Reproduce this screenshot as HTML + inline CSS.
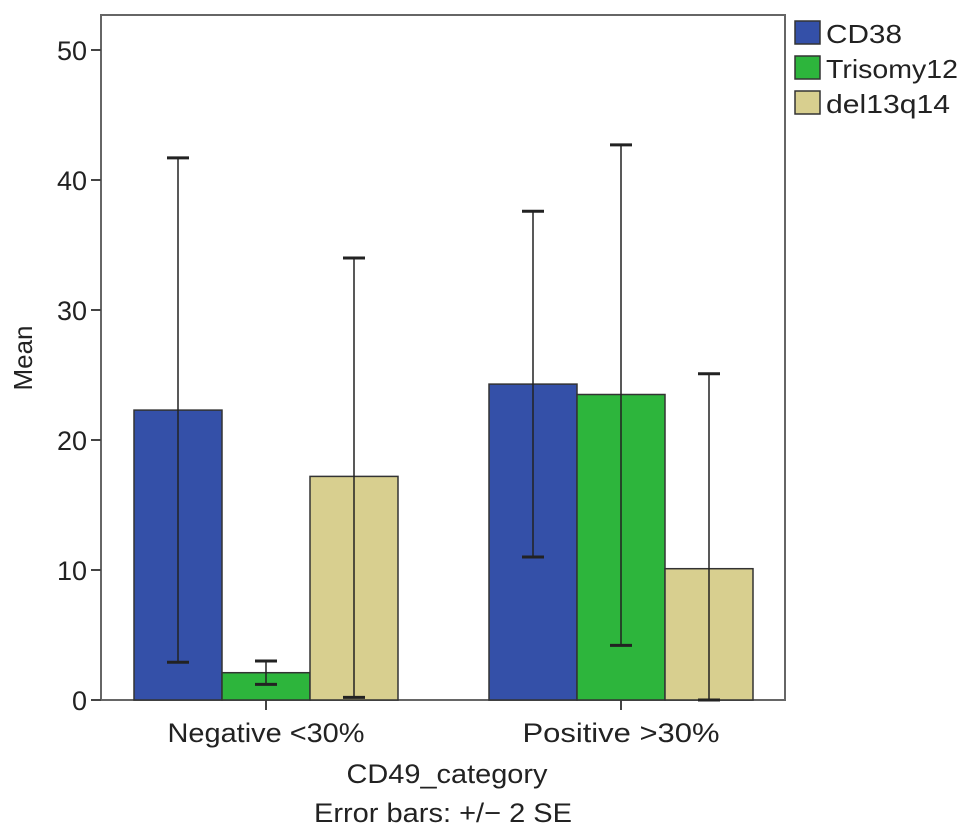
<!DOCTYPE html>
<html><head><meta charset="utf-8"><style>
body{margin:0;background:#fff;font-family:"Liberation Sans",sans-serif}
svg text{font-family:"Liberation Sans",sans-serif;fill:#222}
</style></head><body>
<svg width="969" height="835">
<g id="g"></g>
</svg>
<script>
const categories=["Negative <30%","Positive >30%"];
const seriesNames=["CD38","Trisomy12","del13q14"];
const colors=["#3450a8","#2db53c","#d8cf8f"];
const cd38=[22.3,24.3];
const trisomy12=[2.1,23.5];
const del13q14=[17.2,10.1];
const lowCd38=[2.9,11.0], highCd38=[41.7,37.6];
const lowTri=[1.2,4.2], highTri=[3.0,42.7];
const lowDel=[0.2,0.0], highDel=[34.0,25.1];
const yTicks=[0,10,20,30,40,50];

const series=[cd38,trisomy12,del13q14];
const lows=[lowCd38,lowTri,lowDel], highs=[highCd38,highTri,highDel];
const L=101,R=785,T=15,B=700;
const y=v=>B-v*13;
const catX=i=>266+i*355;
const barW=88;
const ns="http://www.w3.org/2000/svg";
const g=document.getElementById('g');
function mk(t,a,txt){const e=document.createElementNS(ns,t);for(const k in a)e.setAttribute(k,a[k]);if(txt!=null)e.textContent=txt;g.appendChild(e);return e;}
let e=mk('rect',{x:L,y:T,width:R-L,height:B-T,fill:'none',stroke:'#666','stroke-width':2});

yTicks.forEach(t=>{
 let l=mk('line',{x1:L-10,x2:L,y1:y(t),y2:y(t),stroke:'#444','stroke-width':2});
 
 let tx=mk('text',{x:L-14,y:y(t)+10,'text-anchor':'end','font-size':27},t);
 
});
categories.forEach((c,i)=>{
 let l=mk('line',{x1:catX(i),x2:catX(i),y1:B,y2:B+10,stroke:'#444','stroke-width':2});
 
 let tx=mk('text',{x:catX(i),y:B+42,'text-anchor':'middle','font-size':27,textLength:197,lengthAdjust:'spacingAndGlyphs'},c);
 
});
series.forEach((s,j)=>{
 s.forEach((v,i)=>{
  const x0=catX(i)-1.5*barW+j*barW;
  let r=mk('rect',{x:x0,y:y(v),width:barW,height:B-y(v),fill:colors[j],stroke:'#333','stroke-width':1.5});
  
  
  const cx=x0+barW/2, lo=y(lows[j][i]), hi=y(highs[j][i]);
  let eb=mk('path',{d:`M${cx},${lo}V${hi}`,stroke:'#222','stroke-width':1.5,fill:'none'});
  
  let cap=mk('path',{d:`M${cx-11},${hi}H${cx+11}M${cx-11},${lo}H${cx+11}`,stroke:'#222','stroke-width':3,fill:'none'});
  
 });
});
const legW=[76,132,124];
seriesNames.forEach((n,j)=>{
 let r=mk('rect',{x:795,y:21+j*35,width:25,height:23,fill:colors[j],stroke:'#333','stroke-width':1.5});
 
 let tx=mk('text',{x:826,y:43+j*35,'font-size':26,textLength:legW[j],lengthAdjust:'spacingAndGlyphs'},n);
 
});
let yt=mk('text',{x:32,y:358,'text-anchor':'middle','font-size':26,transform:'rotate(-90 32 358)'},'Mean');

let xt=mk('text',{x:447,y:783,'text-anchor':'middle','font-size':27,textLength:201,lengthAdjust:'spacingAndGlyphs'},'CD49_category');

let nt=mk('text',{x:443,y:822,'text-anchor':'middle','font-size':27,textLength:258,lengthAdjust:'spacingAndGlyphs'},'Error bars: +/− 2 SE');

</script>
</body></html>
